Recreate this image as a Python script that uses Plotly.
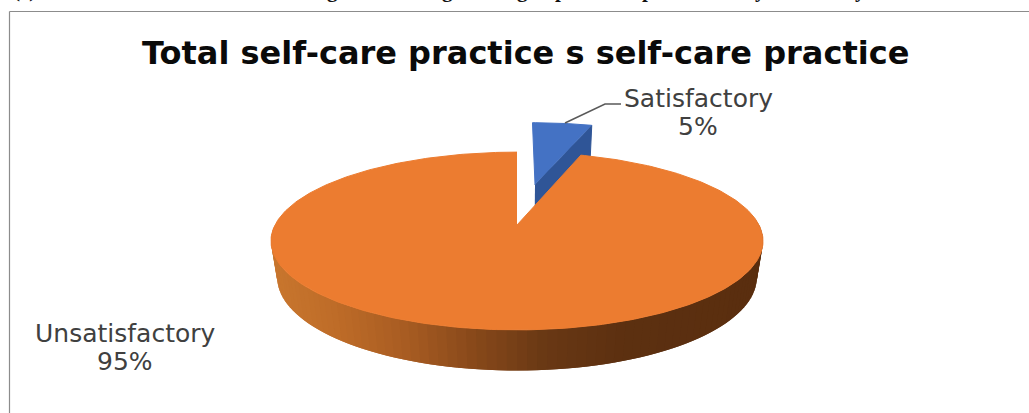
import numpy as np
import plotly.graph_objects as go

# Chart data
title = "Total self-care practice s self-care practice"
categories = ["Satisfactory", "Unsatisfactory"]
values = [5, 95]

# Descenders of the caption line that runs along the top edge
caption_bits = ["(c)", "g", "g", "g", "p", "p", "y", "y"]
caption_x = [24, 332, 447, 522, 561, 648, 760, 860]

# Pie geometry: perspective projection of a tilted disc, in page pixels
APEX_X, APEX_Y = 517, 225
RX, RY = 242, 86
PERSP = 0.18        # shrink towards the back of the disc
DEPTH = 37          # disc thickness
DEPTH_SHRINK = 0.025
EXPLODE = 0.52      # pull-out distance of the first slice, in disc radii

TEXT = "#404040"
LABEL_FONT = dict(family="DejaVu Sans", size=25, color=TEXT)
SIDE_STOPS_X = [270, 330, 400, 470, 540, 620, 765]
SIDE_STOPS_RGB = [
    (200, 118, 46), (190, 108, 40), (168, 92, 34), (135, 72, 26),
    (105, 56, 20), (92, 48, 16), (90, 46, 15),
]


def project(u, v, lower=False):
    """Map disc coordinates (u right, v back) to page pixels."""
    u, v = np.asarray(u, float), np.asarray(v, float)
    w = 1 + PERSP * v + (DEPTH_SHRINK if lower else 0)
    x = APEX_X + RX * u / w
    y = APEX_Y - RY * v / w + (DEPTH / w if lower else 0)
    return x, y


def rim(t0, t1, step=1.0):
    t = np.radians(np.arange(t0, t1 + step / 2, step))
    return np.sin(t), np.cos(t)


fig = go.Figure()


def polygon(x, y, color, edge=1):
    fig.add_trace(go.Scatter(
        x=list(x), y=list(y), mode="lines", fill="toself", fillcolor=color,
        line=dict(color=color, width=edge), hoverinfo="skip", showlegend=False,
    ))


sweep = 360 * values[0] / sum(values)
mid = np.radians(sweep / 2)
off_u, off_v = EXPLODE * np.sin(mid), EXPLODE * np.cos(mid)

# Pulled-out slice: cut face first, then its top
edge_u, edge_v = np.sin(np.radians(sweep)) + off_u, np.cos(np.radians(sweep)) + off_v
x_top, y_top = project([off_u, edge_u], [off_v, edge_v])
x_low, y_low = project([edge_u, off_u], [edge_v, off_v], lower=True)
polygon(np.r_[x_top, x_low], np.r_[y_top, y_low], "#2F5597")

ru, rv = rim(0, sweep)
x_s, y_s = project(np.r_[off_u, ru + off_u], np.r_[off_v, rv + off_v])
polygon(x_s, y_s, "#4472C4")

# Wall of the large slice, shaded band by band; each band overlaps the next
for a in np.arange(270, 88, -2.0):
    ru, rv = rim(a - 4, a)
    xa, ya = project(ru, rv)
    xb, yb = project(ru[::-1], rv[::-1], lower=True)
    mx = xa[-1]
    rgb = [np.interp(mx, SIDE_STOPS_X, [c[i] for c in SIDE_STOPS_RGB]) for i in range(3)]
    polygon(np.r_[xa, xb], np.r_[ya, yb], "rgb({:.0f},{:.0f},{:.0f})".format(*rgb), edge=0)

# Top of the large slice
ru, rv = rim(sweep, 360)
x_o, y_o = project(np.r_[0, ru], np.r_[0, rv])
polygon(x_o, y_o, "#EC7C30")

# Leader line for the small slice
fig.add_trace(go.Scatter(
    x=[565, 605, 621], y=[123, 104, 104], mode="lines",
    line=dict(color="#595959", width=1.5), hoverinfo="skip", showlegend=False,
))

annotations = [
    dict(x=525, y=53, text=f"<b>{title}</b>", font=dict(family="DejaVu Sans", size=32, color="#0a0a0a")),
    dict(x=698, y=98, text=categories[0], font=LABEL_FONT),
    dict(x=698, y=126, text=f"{values[0]}%", font=LABEL_FONT),
    dict(x=125, y=333, text=categories[1], font=LABEL_FONT),
    dict(x=125, y=361, text=f"{values[1]}%", font=LABEL_FONT),
]
for a in annotations:
    a["yanchor"] = "middle"
# Caption letters sit above the page edge, so they hang from a point just inside it
for bit, x in zip(caption_bits, caption_x):
    annotations.append(dict(
        x=x, y=4, text=f"<b>{bit}</b>", yanchor="bottom",
        font=dict(family="Liberation Serif", size=21, color="#111111"),
    ))
for a in annotations:
    a.update(xref="x", yref="y", showarrow=False, xanchor="center")

fig.update_layout(
    width=1029, height=413, margin=dict(l=0, r=0, t=0, b=0),
    paper_bgcolor="white", plot_bgcolor="white",
    xaxis=dict(range=[0, 1029], visible=False, fixedrange=True),
    yaxis=dict(range=[413, 0], visible=False, fixedrange=True),
    annotations=annotations,
    shapes=[
        dict(type="line", xref="x", yref="y", x0=9.5, x1=1029, y0=11.5, y1=11.5,
             line=dict(color="#8c8c8c", width=1.2)),
        dict(type="line", xref="x", yref="y", x0=9.5, x1=9.5, y0=11.5, y1=413,
             line=dict(color="#8c8c8c", width=1.2)),
    ],
)

fig.write_html("out.html", config=dict(displayModeBar=False))
